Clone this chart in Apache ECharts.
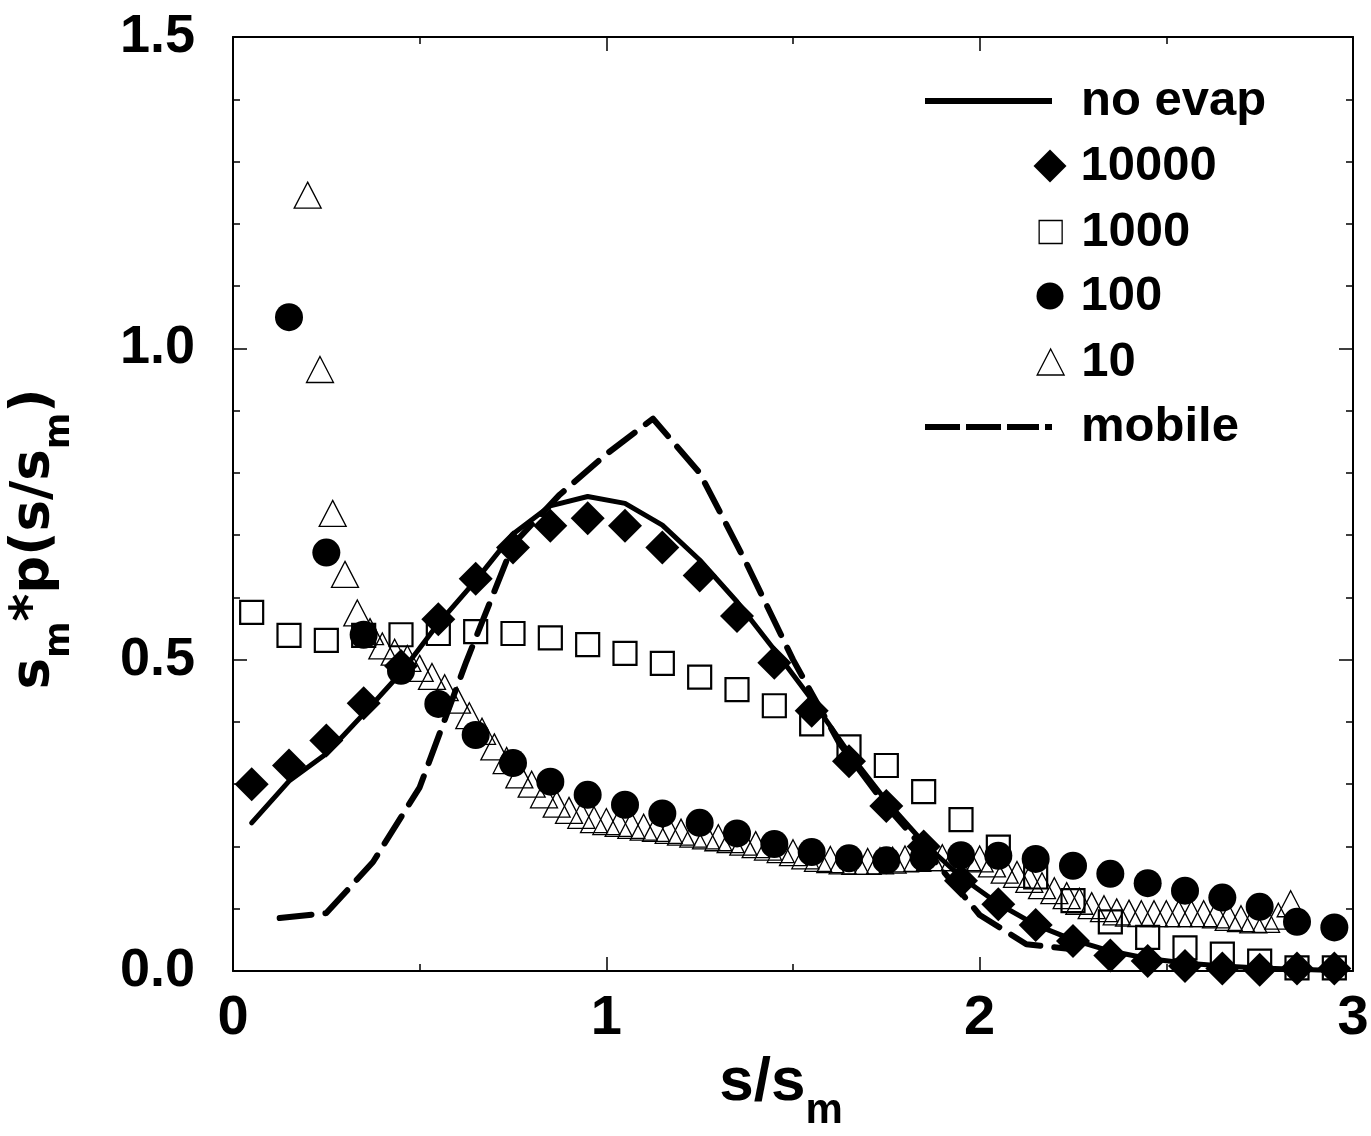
<!DOCTYPE html>
<html><head><meta charset="utf-8">
<script src="https://cdn.jsdelivr.net/npm/echarts@6/dist/echarts.min.js"></script>
<style>html,body{margin:0;padding:0;background:#fff}#c{width:1371px;height:1136px}</style>
</head><body><div id="c"></div>
<script>
// ---- data ----
const binX = [0.05,0.15,0.25,0.35,0.45,0.55,0.65,0.75,0.85,0.95,1.05,1.15,1.25,1.35,1.45,1.55,1.65,1.75,1.85,1.95,2.05,2.15,2.25,2.35,2.45,2.55,2.65,2.75,2.85,2.95];
const noEvapY = [0.238,0.305,0.349,0.413,0.479,0.558,0.627,0.702,0.747,0.762,0.751,0.716,0.66,0.593,0.516,0.436,0.35,0.273,0.206,0.151,0.108,0.074,0.05,0.032,0.02,0.013,0.008,0.005,0.003,0.001];
const evap10000Y = [0.30,0.33,0.37,0.43,0.49,0.565,0.63,0.68,0.715,0.727,0.715,0.68,0.635,0.57,0.495,0.418,0.337,0.265,0.20,0.145,0.107,0.074,0.048,0.025,0.016,0.008,0.004,0.002,0.004,0.004];
const evap1000Y = [0.576,0.539,0.531,0.539,0.540,0.542,0.545,0.542,0.535,0.524,0.51,0.494,0.472,0.452,0.426,0.397,0.36,0.33,0.288,0.243,0.199,0.151,0.113,0.079,0.054,0.037,0.027,0.016,0.005,0.005];
const evap100X = [0.15,0.25,0.35,0.45,0.55,0.65,0.75,0.85,0.95,1.05,1.15,1.25,1.35,1.45,1.55,1.65,1.75,1.85,1.95,2.05,2.15,2.25,2.35,2.45,2.55,2.65,2.75,2.85,2.95];
const evap100Y = [1.05,0.672,0.54,0.482,0.429,0.379,0.334,0.304,0.283,0.267,0.253,0.238,0.221,0.204,0.191,0.181,0.178,0.182,0.186,0.185,0.18,0.169,0.156,0.141,0.129,0.118,0.103,0.079,0.07];
const evap10X = [0.200,0.233,0.267,0.300,0.333,0.367,0.400,0.433,0.467,0.500,0.533,0.567,0.600,0.633,0.667,0.700,0.733,0.767,0.800,0.833,0.867,0.900,0.933,0.967,1.000,1.033,1.067,1.100,1.133,1.167,1.200,1.233,1.267,1.300,1.333,1.367,1.400,1.433,1.467,1.500,1.533,1.567,1.600,1.633,1.667,1.700,1.733,1.767,1.800,1.833,1.867,1.900,1.933,1.967,2.000,2.033,2.067,2.100,2.133,2.167,2.200,2.233,2.267,2.300,2.333,2.367,2.400,2.433,2.467,2.500,2.533,2.567,2.600,2.633,2.667,2.700,2.733,2.767,2.800,2.833];
const evap10Y = [1.246,0.966,0.735,0.637,0.575,0.545,0.522,0.512,0.502,0.486,0.473,0.455,0.435,0.41,0.385,0.36,0.338,0.315,0.300,0.283,0.268,0.258,0.25,0.243,0.24,0.237,0.234,0.231,0.229,0.226,0.223,0.22,0.217,0.214,0.211,0.207,0.203,0.199,0.195,0.19,0.185,0.181,0.179,0.177,0.176,0.176,0.177,0.178,0.18,0.181,0.182,0.182,0.182,0.182,0.18,0.172,0.162,0.155,0.147,0.137,0.129,0.121,0.112,0.105,0.1,0.095,0.093,0.092,0.092,0.092,0.092,0.092,0.092,0.09,0.086,0.084,0.082,0.083,0.088,0.108];
const mobileX = [0.125,0.25,0.375,0.5,0.625,0.75,0.875,1.0,1.125,1.25,1.375,1.5,1.625,1.75,1.875,2.0,2.125,2.25];
const mobileY = [0.085,0.093,0.175,0.295,0.497,0.685,0.765,0.83,0.887,0.80,0.655,0.50,0.365,0.265,0.18,0.09,0.043,0.035];
const xTicks = [0,1,2,3];
const yTicks = [0.0,0.5,1.0,1.5];
const seriesNames = ['no evap','10000','1000','100','10','mobile'];

// ---- helpers ----
const zip = (xs, ys) => xs.map((x, i) => [x, ys[i]]);
const SANS = '"Liberation Sans", Arial, Helvetica, sans-serif';
const NARROW = '"Liberation Sans Narrow", "Liberation Sans", Arial, sans-serif';
const WIDE = '"DejaVu Sans", "Liberation Sans", sans-serif';
const AX = '#000';

function boxAxis(extra) {
  return Object.assign({
    axisLine: { show: true, onZero: false, lineStyle: { color: AX, width: 2 } },
    axisTick: { show: true, inside: true, length: 14, lineStyle: { color: AX, width: 1.5 } },
    minorTick: { show: true, length: 7, lineStyle: { color: AX, width: 1.5 } },
    splitLine: { show: false },
    minorSplitLine: { show: false }
  }, extra);
}

const legendText = (padLeft) => ({
  fontFamily: SANS, fontWeight: 'bold', fontSize: 49, color: '#000',
  lineHeight: 50, padding: [0, 0, 0, padLeft]
});
function legendItem(name, left, centerY, w, h, padLeft, extra) {
  return Object.assign({
    data: [name], orient: 'vertical', left: left, top: centerY - 25,
    padding: 0, itemGap: 0, itemWidth: w, itemHeight: h,
    selectedMode: false, textStyle: legendText(padLeft)
  }, extra || {});
}

const option = {
  animation: false,
  backgroundColor: '#fff',
  grid: { left: 233, right: 18, top: 37, bottom: 165, containLabel: false, outerBoundsMode: 'none' },
  xAxis: [
    boxAxis({
      type: 'value', min: xTicks[0], max: xTicks[xTicks.length - 1], interval: 1, position: 'bottom',
      minorTick: { show: true, splitNumber: 2, length: 7, lineStyle: { color: AX, width: 1.5 } },
      axisLabel: { show: true, margin: 20, fontFamily: NARROW, fontWeight: 'bold', fontSize: 56, lineHeight: 56, color: '#000',
        formatter: v => String(v) },
      name: '{a|s/s}{b|m}', nameLocation: 'middle', nameGap: 72,
      nameTextStyle: {
        padding: [0, 24, 0, 0],
        rich: {
          a: { fontFamily: NARROW, fontWeight: 'bold', fontSize: 62, color: '#000', verticalAlign: 'bottom', padding: [0, 0, 19, 0] },
          b: { fontFamily: NARROW, fontWeight: 'bold', fontSize: 42, color: '#000', verticalAlign: 'bottom' }
        }
      }
    }),
    boxAxis({
      type: 'value', min: 0, max: 3, interval: 1, position: 'top',
      minorTick: { show: true, splitNumber: 2, length: 7, lineStyle: { color: AX, width: 1.5 } },
      axisLabel: { show: false }
    })
  ],
  yAxis: [
    boxAxis({
      type: 'value', min: yTicks[0], max: yTicks[yTicks.length - 1], interval: 0.5, position: 'left',
      minorTick: { show: true, splitNumber: 5, length: 7, lineStyle: { color: AX, width: 1.5 } },
      axisLabel: { show: true, margin: 38, fontFamily: SANS, fontWeight: 'bold', fontSize: 54, color: '#000',
        formatter: v => v.toFixed(1) },
      name: '{a|s}{b|m}{a|*p(s/s}{b|m}{a|)}', nameLocation: 'middle', nameRotate: 90, nameGap: 156,
      nameTextStyle: {
        padding: [0, 70, 0, 0],
        rich: {
          a: { fontFamily: WIDE, fontWeight: 'bold', fontSize: 53, color: '#000', verticalAlign: 'bottom', padding: [0, 0, 16, 0] },
          b: { fontFamily: WIDE, fontWeight: 'bold', fontSize: 35, color: '#000', verticalAlign: 'bottom' }
        }
      }
    }),
    boxAxis({
      type: 'value', min: 0, max: 1.5, interval: 0.5, position: 'right',
      minorTick: { show: true, splitNumber: 5, length: 7, lineStyle: { color: AX, width: 1.5 } },
      axisLabel: { show: false }
    })
  ],
  legend: [
    legendItem(seriesNames[0], 925, 101, 127, 6, 24, {
      data: [{ name: seriesNames[0], icon: 'path://M0,0H127V6H0Z' }],
      itemStyle: { color: '#000', borderWidth: 0, opacity: 1 }
    }),
    legendItem(seriesNames[1], 1033.5, 166, 33, 33, 9, { itemStyle: { color: '#000', borderWidth: 0, opacity: 1 } }),
    legendItem(seriesNames[2], 1038.5, 232, 23, 23, 14, { itemStyle: { borderWidth: 1.3, borderColor: '#000', opacity: 1 } }),
    legendItem(seriesNames[3], 1036.5, 296, 27, 27, 12, { itemStyle: { color: '#000', borderWidth: 0, opacity: 1 } }),
    legendItem(seriesNames[4], 1036.5, 362, 27, 26, 12, { itemStyle: { borderWidth: 1.3, borderColor: '#000', opacity: 1 } }),
    legendItem(seriesNames[5], 925, 427, 127, 6, 24, {
      data: [{ name: seriesNames[5], icon: 'path://M0,0H35V6H0Z M41,0H76V6H41Z M82,0H114V6H82Z M120,0H127V6H120Z' }],
      itemStyle: { color: '#000', borderWidth: 0, opacity: 1 }
    })
  ],
  series: [
    {
      name: seriesNames[4], type: 'scatter', data: zip(evap10X, evap10Y),
      symbol: 'triangle', symbolSize: [27, 26],
      itemStyle: { color: 'rgba(255,255,255,0)', borderColor: '#000', borderWidth: 1.3, opacity: 1 },
      emphasis: { disabled: true }, z: 2
    },
    {
      name: seriesNames[2], type: 'scatter', data: zip(binX, evap1000Y),
      symbol: 'rect', symbolSize: 23,
      itemStyle: { color: 'rgba(255,255,255,0)', borderColor: '#000', borderWidth: 2.2, opacity: 1 },
      emphasis: { disabled: true }, z: 3
    },
    {
      name: seriesNames[3], type: 'scatter', data: zip(evap100X, evap100Y),
      symbol: 'circle', symbolSize: 28,
      itemStyle: { color: '#000', opacity: 1 },
      emphasis: { disabled: true }, z: 4
    },
    {
      name: seriesNames[1], type: 'scatter', data: zip(binX, evap10000Y),
      symbol: 'diamond', symbolSize: 34,
      itemStyle: { color: '#000', opacity: 1 },
      emphasis: { disabled: true }, z: 5
    },
    {
      name: seriesNames[0], type: 'line', data: zip(binX, noEvapY),
      symbol: 'none', smooth: false, color: '#000',
      lineStyle: { color: '#000', width: 5, cap: 'round', join: 'round' },
      emphasis: { disabled: true }, z: 6
    },
    {
      name: seriesNames[5], type: 'line', data: zip(mobileX, mobileY),
      symbol: 'none', smooth: false, color: '#000',
      lineStyle: { color: '#000', width: 6, type: [32, 14], cap: 'round', join: 'round' },
      emphasis: { disabled: true }, z: 6
    }
  ]
};

const chart = echarts.init(document.getElementById('c'), null, { renderer: 'canvas', width: 1371, height: 1136 });
chart.setOption(option);
</script>
</body></html>
